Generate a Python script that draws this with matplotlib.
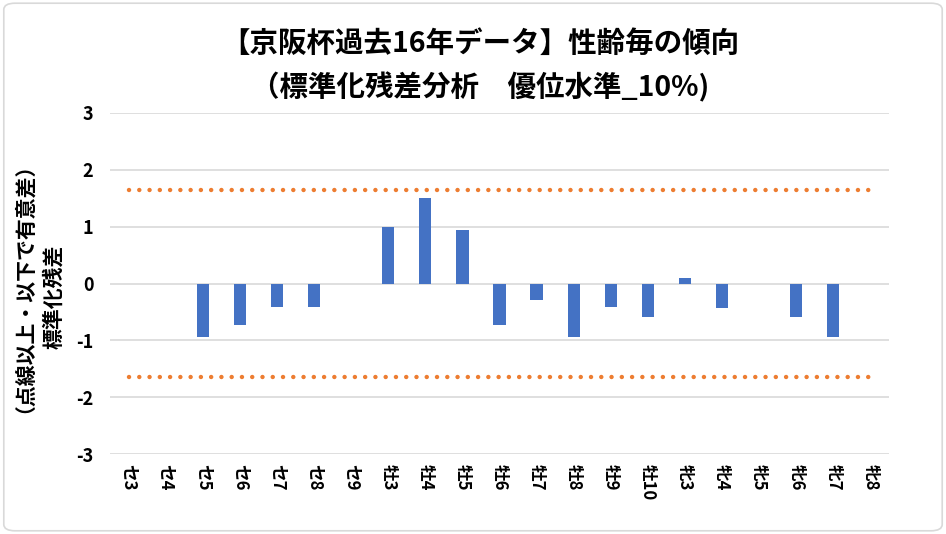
import numpy as np
import matplotlib.pyplot as plt
from matplotlib.patches import FancyBboxPatch

plt.rcParams['font.family'] = ['Noto Sans CJK JP', 'DejaVu Sans']
plt.rcParams['axes.unicode_minus'] = False

# =========================================================
# DATA
# =========================================================

categories = ['セ3', 'セ4', 'セ5', 'セ6', 'セ7', 'セ8', 'セ9',
              '牡3', '牡4', '牡5', '牡6', '牡7', '牡8', '牡9', '牡10',
              '牝3', '牝4', '牝5', '牝6', '牝7', '牝8']

residuals = [0, 0, -0.94, -0.73, -0.41, -0.41, 0,
             1.0, 1.50, 0.94, -0.73, -0.29, -0.94, -0.41, -0.59,
             0.09, -0.43, 0, -0.59, -0.94, 0]

threshold = 1.645

title_text = '【京阪杯過去16年データ】性齢毎の傾向\n（標準化残差分析　優位水準_10%)'

# =========================================================
# PLOT
# =========================================================

fig = plt.figure(figsize=(9.46, 5.34), dpi=100)
ax = fig.add_axes([0.1163, 0.1498, 0.8234, 0.6386])

x = np.arange(len(categories))

ax.bar(x, residuals, width=0.33, color='#4472C4', zorder=3)

ax.plot(x, [threshold] * len(x), linestyle=(0, (0.01, 2.3)), dash_capstyle='round',
        linewidth=3.2, color='#ED7D31', zorder=4)
ax.plot(x, [-threshold] * len(x), linestyle=(0, (0.01, 2.3)), dash_capstyle='round',
        linewidth=3.2, color='#ED7D31', zorder=4)

ax.set_xlim(-0.5, len(categories) - 0.5)
ax.set_ylim(-3, 3)
ax.set_yticks(range(-3, 4))
ax.grid(axis='y', color='#D9D9D9', linewidth=1.2, zorder=0)

for side in ['top', 'right', 'left', 'bottom']:
    ax.spines[side].set_visible(False)

ax.set_xticks(x)
ax.set_xticklabels(categories, rotation=-90, fontsize=12, fontweight='bold', va='top')
ax.tick_params(axis='x', length=0, pad=7)
ax.tick_params(axis='y', length=0, pad=12, labelsize=13)
for lab in ax.get_yticklabels():
    lab.set_fontweight('bold')

fig.text(0.508, 0.876, title_text, ha='center', va='center', fontsize=20.5,
         fontweight='bold', linespacing=1.55)

fig.text(0.0145, 0.48, '（点線以上・以下で有意差）', rotation=90, ha='center', va='center',
         fontsize=15, fontweight='bold')
fig.text(0.057, 0.445, '標準化残差', rotation=90, ha='center', va='center',
         fontsize=15, fontweight='bold')

border = FancyBboxPatch((0.004, 0.006), 0.992, 0.988, boxstyle='round,pad=0,rounding_size=0.012',
                        transform=fig.transFigure, facecolor='none', edgecolor='#D9D9D9',
                        linewidth=1.2)
fig.patches.append(border)

plt.savefig('out.png', dpi=100)
